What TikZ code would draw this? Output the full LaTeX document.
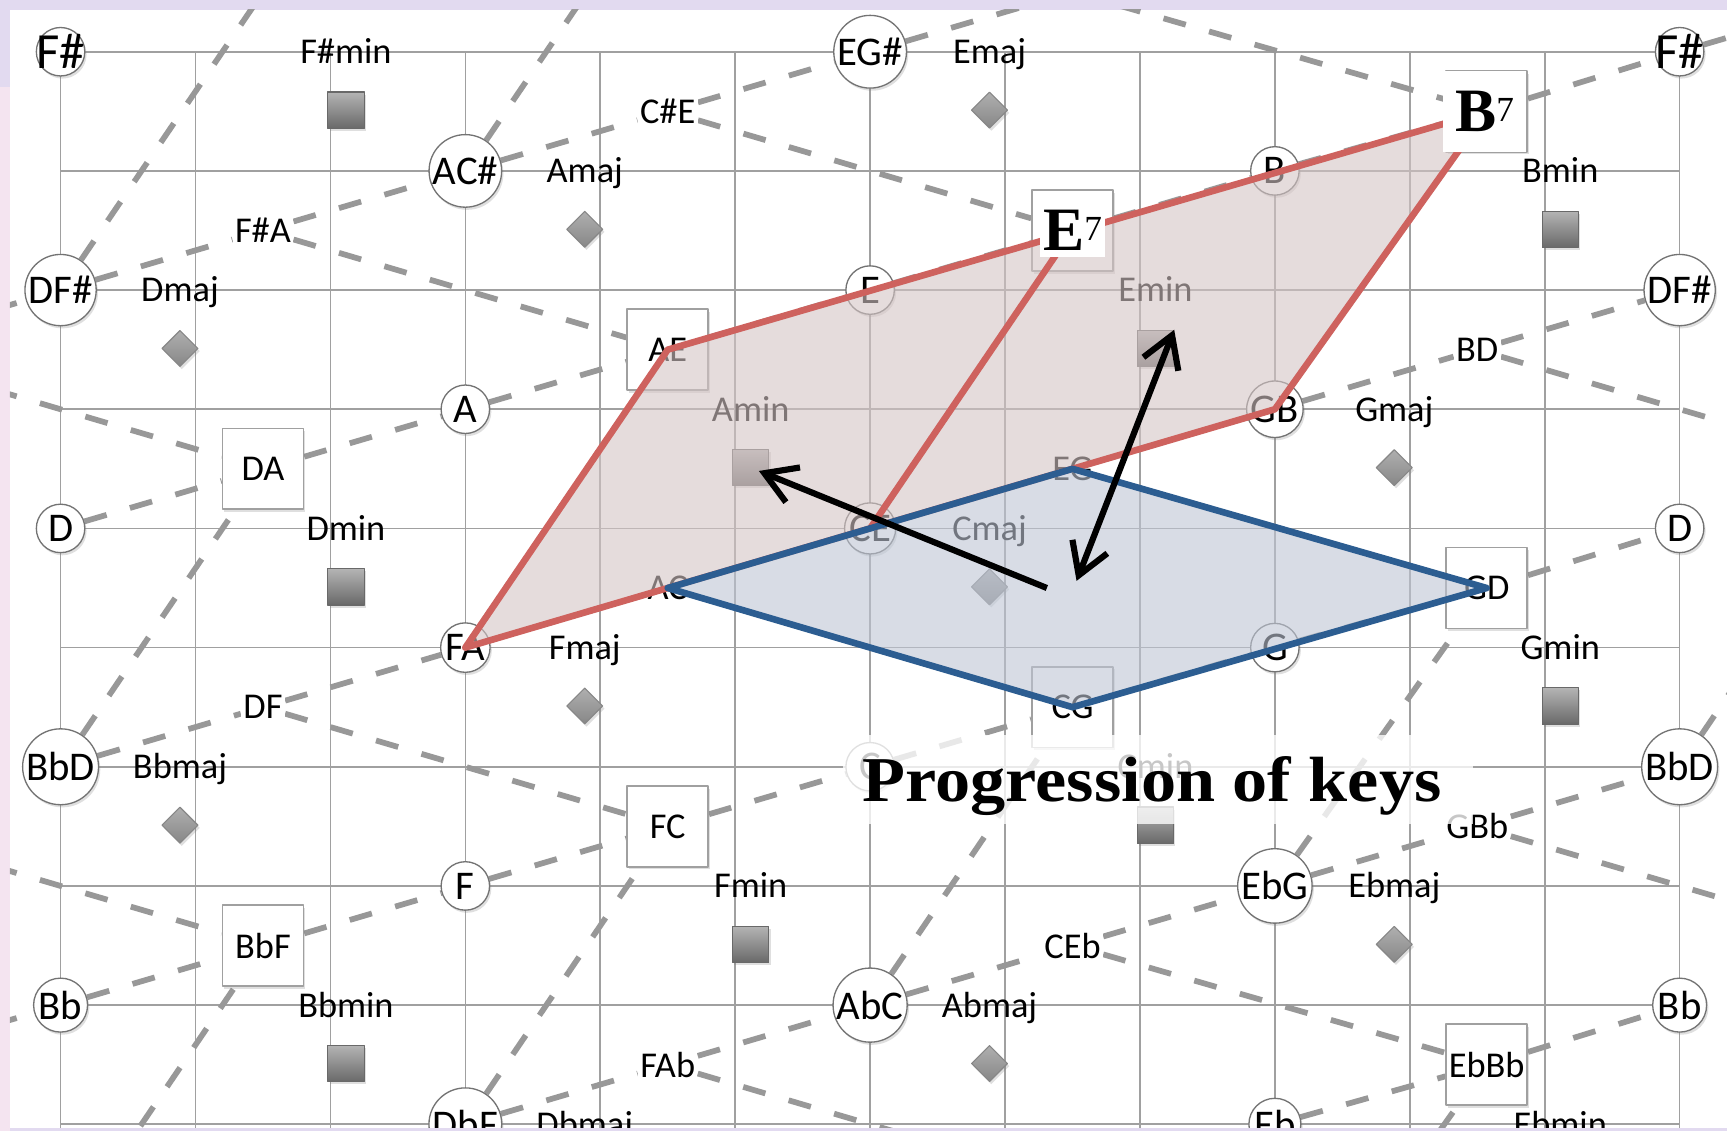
\documentclass[tikz,border=0pt]{standalone}
\usepackage{fontspec}
\setmainfont{Carlito}
\newfontfamily\chordserif{Liberation Serif}
\newfontfamily\titleserif[FakeStretch=1.1]{Liberation Serif}
\usetikzlibrary{shapes.geometric,arrows.meta,shadows}
\pgfdeclarelayer{paper}
\pgfdeclarelayer{lines}
\pgfsetlayers{paper,lines,main}
\definecolor{gridgray}{RGB}{160,160,160}
\definecolor{dashgray}{RGB}{152,152,152}
\definecolor{ringgray}{RGB}{115,115,115}
\definecolor{boxgray}{RGB}{160,160,160}
\definecolor{edgelav}{RGB}{226,218,240}
\definecolor{edgepink}{RGB}{244,228,240}
\definecolor{triadred}{RGB}{206,98,94}
\definecolor{triadpink}{RGB}{213,197,197}
\definecolor{keyblue}{RGB}{44,93,145}
\definecolor{keyfill}{RGB}{190,198,213}
\definecolor{marklight}{RGB}{180,180,180}
\definecolor{markdark}{RGB}{105,105,105}
\definecolor{dmlight}{RGB}{175,175,175}
\definecolor{dmdark}{RGB}{135,135,135}

\begin{document}
\begin{tikzpicture}[x=61.25pt, y=-54.1pt, line join=round,
    >={Straight Barb[length=14pt,width=17pt]},
    font=\fontsize{16.5}{17}\selectfont,
    shade/.style={drop shadow={shadow xshift=0.8pt, shadow yshift=-1.2pt, opacity=0.25}},
    note/.style={circle, draw=ringgray, line width=0.6pt, fill=white, inner sep=0.3pt,
      minimum size=22pt, font=\fontsize{18.5}{19}\selectfont, shade},
    dyadbox/.style={rectangle, draw=boxgray, line width=0.8pt, fill=white,
      minimum size=36.7pt, inner sep=0pt, shade},
    dyad/.style={fill=white, inner sep=1pt},
    chord/.style={anchor=base, inner sep=0pt},
    minmark/.style={rectangle, draw=markdark, line width=0.5pt, top color=marklight,
      bottom color=markdark, minimum size=16.5pt, inner sep=0pt, shade},
    majmark/.style={diamond, draw=dmdark, line width=0.5pt, top color=dmlight,
      bottom color=dmdark, minimum size=16.5pt, inner sep=0pt, shade},
    keyline/.style={dashgray, line width=2.6pt, dash pattern=on 10.5pt off 11pt},
    gridline/.style={gridgray, line width=0.75pt},
    triad/.style={triadred, line width=3pt},
    keyarrow/.style={line width=2.8pt},
    seventh/.style={fill=white, inner sep=1pt, font=\chordserif\fontsize{28}{28}\selectfont}]
  \def\xmin{-0.449} \def\xmax{12.351} \def\ymin{-0.434} \def\ymax{9.057}
  \def\pagel{-0.375} \def\paget{-0.351} \def\pageb{9.03}
  \useasboundingbox (\xmin,\ymin) rectangle (\xmax,\ymax);

  \begin{pgfonlayer}{paper}
    \fill[edgelav] (\xmin,\ymin) rectangle (\xmax,\ymax);
    \fill[edgepink] (\xmin,0.3) rectangle (\pagel,\ymax);
    \fill[white] (\pagel,\paget) rectangle (\xmax,\pageb);
    \begin{scope}
      \clip (\pagel,\paget) rectangle (\xmax,\pageb);
      \foreach \c in {0,...,12} \draw[gridline] (\c,0) -- (\c,9.3);
      \foreach \r in {0,...,9} \draw[gridline] (0,\r) -- (12,\r);
    \end{scope}
  \end{pgfonlayer}

  % lattice points outside the page
  \coordinate (w1) at (-1.5,2.5);  \coordinate (w2) at (-1.5,6.5);
  \coordinate (w3) at (-1.5,8.5);  \coordinate (n1) at (1.5,-0.5);
  \coordinate (n2) at (4.5,-1.5);  \coordinate (n3) at (7.5,-0.5);
  \coordinate (e1) at (13.5,-0.5); \coordinate (e2) at (13.5,3.5);
  \coordinate (e3) at (13.5,7.5);  \coordinate (s1) at (0,10);
  \coordinate (s2) at (7.5,9.5);   \coordinate (s3) at (9,11);

  \begin{scope}
    \clip (\pagel,\paget) rectangle (\xmax,\pageb);
    % notes and major thirds
    \node[note, font=\fontsize{23}{23}\selectfont, inner sep=-2.5pt] (fs1) at (0,0) {F\#};
    \node[note, font=\fontsize{23}{23}\selectfont, inner sep=-2.5pt] (fs2) at (12,0) {F\#};
    \foreach \c/\r/\n/\t in {6/0/egs/EG\#, 3/1/acs/AC\#, 9/1/b/B, 0/2/dfs1/DF\#, 6/2/e/E,
        12/2/dfs2/DF\#, 3/3/a/A, 9/3/gb/GB, 0/4/d1/D, 6/4/ce/CE, 12/4/d2/D, 3/5/fa/FA,
        9/5/g/G, 0/6/bbd1/BbD, 6/6/c/C, 12/6/bbd2/BbD, 3/7/f/F, 9/7/ebg/EbG, 0/8/bb1/Bb,
        6/8/abc/AbC, 12/8/bb2/Bb, 3/9/dbf/DbF, 9/9/eb/Eb}
      \node[note] (\n) at (\c,\r) {\t};
    % fifths
    \foreach \c/\r/\n/\t in {1.5/3.5/da/DA, 4.5/2.5/ae/AE, 7.5/1.5/e7box/{}, 10.57/0.5/b7box/{},
        1.5/7.5/bbf/BbF, 4.5/6.5/fc/FC, 7.5/5.5/cg/CG, 10.57/4.5/gd/GD, 10.57/8.5/ebbb/EbBb}
      \node[dyadbox] (\n) at (\c,\r) {\t};
    % minor thirds
    \foreach \c/\r/\n/\t in {1.5/1.5/fsa/F\#A, 4.5/0.5/cse/C\#E, 1.5/5.5/df/DF, 4.5/4.5/ac/AC,
        7.5/3.5/eg/EG, 10.5/2.5/bd/BD, 4.5/8.5/fab/FAb, 7.5/7.5/ceb/CEb, 10.5/6.5/gbb/GBb}
      \node[dyad] (\n) at (\c,\r) {\t};
    % triads
    \foreach \c/\r/\n/\t in {7/0/emaj/Emaj, 4/1/amaj/Amaj, 1/2/dmaj/Dmaj, 10/3/gmaj/Gmaj,
        7/4/cmaj/Cmaj, 4/5/fmaj/Fmaj, 1/6/bbmaj/Bbmaj, 10/7/ebmaj/Ebmaj, 7/8/abmaj/Abmaj,
        4/9/dbmaj/Dbmaj}{
      \node[chord] (\n) at (\c-0.115,\r+0.1) {\t};
      \node[majmark] (\n-m) at (\c-0.115,\r+0.49) {};
    }
    \foreach \c/\r/\n/\t in {2/0/fsmin/F\#min, 11/1/bmin/Bmin, 8/2/emin/Emin, 5/3/amin/Amin,
        2/4/dmin/Dmin, 11/5/gmin/Gmin, 8/6/cmin/Cmin, 5/7/fmin/Fmin, 2/8/bbmin/Bbmin,
        11/9/ebmin/Ebmin}{
      \node[chord] (\n) at (\c+0.115,\r+0.1) {\t};
      \node[minmark] (\n-m) at (\c+0.115,\r+0.49) {};
    }

    % E7 and B7 frames, key of C
    \fill[triadpink, fill opacity=0.6] (fa.center) -- (ae.center) -- (b7box.center) -- (gb.center) -- cycle;
    \draw[triad] (fa.center) -- (ae.center) -- (b7box.center) -- (gb.center) -- cycle
      (ce.center) -- (e7box.center);
    \fill[keyfill, fill opacity=0.6] (ac.center) -- (eg.center) -- (gd.center) -- (cg.center) -- cycle;
    \draw[keyblue, line width=3pt] (ac.center) -- (eg.center) -- (gd.center) -- (cg.center) -- cycle;

    \node[seventh, minimum width=29.5pt, minimum height=24.5pt] (e7) at (e7box)
      {\textbf{E}\raisebox{4.5pt}{\fontsize{16}{16}\selectfont 7}};
    \node[seventh, minimum width=38pt, minimum height=36.5pt] (b7) at ([xshift=-1pt]b7box)
      {\textbf{B}\raisebox{4.5pt}{\fontsize{16}{16}\selectfont 7}};

    \coordinate (keyc) at (7.31,4.5);
    \coordinate (keyd) at (7.53,4.44);
    \draw[keyarrow,->,shorten >=4pt] (keyc) -- (amin-m.center);
    \draw[keyarrow,<->] (keyd) -- (emin-m.north east);

    \node[fill=white, fill opacity=0.78, minimum width=286pt, minimum height=40.6pt,
      inner sep=0pt] (titlebg) at (8.135,6.105) {};
    \node[anchor=base, font=\titleserif\bfseries\fontsize{29}{29}\selectfont] (title)
      at (8.09,6.29) {Progression of keys};
  \end{scope}

  \begin{pgfonlayer}{lines}
    \clip (\pagel,\paget) rectangle (\xmax,\pageb);
    % rising lines
    \draw[keyline] (w1) -- (dfs1) -- (fsa) -- (acs) -- (cse) -- (egs) -- (n3);
    \draw[keyline] (d1) -- (da) -- (a) -- (ae) -- (e) -- (e7box) -- (b) -- (b7box) -- (fs2) -- (e1);
    \draw[keyline] (bbd1) -- (df) -- (fa) -- (ac) -- (ce) -- (eg) -- (gb) -- (bd) -- (dfs2);
    \draw[keyline] (w3) -- (bb1) -- (bbf) -- (f) -- (fc) -- (c) -- (cg) -- (g) -- (gd) -- (d2);
    \draw[keyline] (dbf) -- (fab) -- (abc) -- (ceb) -- (ebg) -- (gbb) -- (bbd2);
    \draw[keyline] (eb) -- (ebbb) -- (bb2);
    % falling lines
    \draw[keyline] (w1) -- (da);   \draw[keyline] (fsa) -- (ae);
    \draw[keyline] (cse) -- (e7box); \draw[keyline] (n3) -- (b7box);
    \draw[keyline] (bd) -- (e2);   \draw[keyline] (df) -- (fc);
    \draw[keyline] (ac) -- (cg);   \draw[keyline] (eg) -- (gd);
    \draw[keyline] (w2) -- (bbf);  \draw[keyline] (fab) -- (s2);
    \draw[keyline] (ceb) -- (ebbb); \draw[keyline] (gbb) -- (e3);
    % steep lines
    \draw[keyline] (dfs1) -- (n1); \draw[keyline] (acs) -- (n2);
    \draw[keyline] (bbd1) -- (da); \draw[keyline] (fa) -- (ae);
    \draw[keyline] (ce) -- (e7box); \draw[keyline] (gb) -- (b7box);
    \draw[keyline] (s1) -- (bbf);  \draw[keyline] (dbf) -- (fc);
    \draw[keyline] (abc) -- (cg);  \draw[keyline] (ebg) -- (gd);
    \draw[keyline] (bbd2) -- (e2); \draw[keyline] (s3) -- (ebbb);
  \end{pgfonlayer}
\end{tikzpicture}
\end{document}
